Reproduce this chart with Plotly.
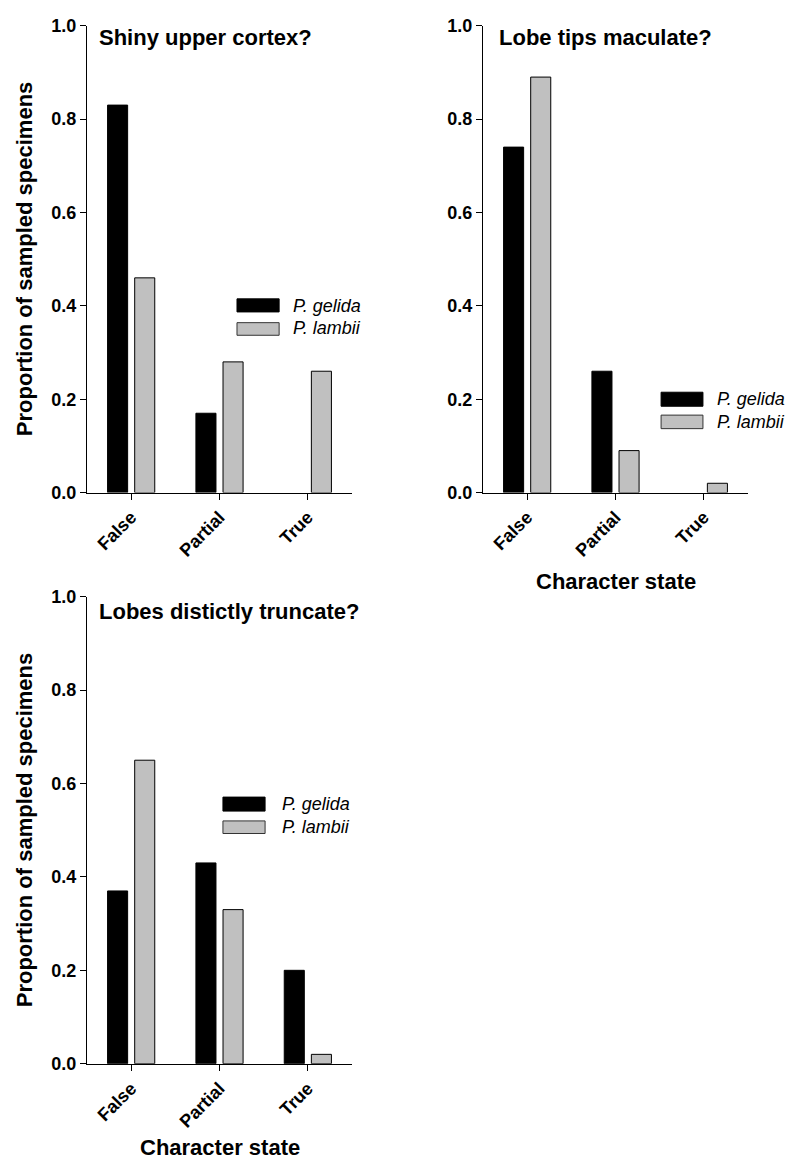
import plotly.graph_objects as go

# Character states on the x axis
categories = ["False", "Partial", "True"]

# Proportion of sampled specimens per character state
shiny_gelida = [0.83, 0.17, 0.0]
shiny_lambii = [0.46, 0.28, 0.26]

maculate_gelida = [0.74, 0.26, 0.0]
maculate_lambii = [0.89, 0.09, 0.02]

truncate_gelida = [0.37, 0.43, 0.20]
truncate_lambii = [0.65, 0.33, 0.02]

panel_titles = ["Shiny upper cortex?", "Lobe tips maculate?", "Lobes distictly truncate?"]
species = ["P. gelida", "P. lambii"]
y_ticks = [0.0, 0.2, 0.4, 0.6, 0.8, 1.0]

W, H = 787, 1171
FONT = "Liberation Sans, Arial, Helvetica, sans-serif"
BLACK = "#000000"
GREY = "#c0c0c0"


def px_x(v):
    return v / W


def px_y(v):
    return 1 - v / H


def outline_widths(values):
    # empty bars get no outline so nothing is drawn on the baseline
    return [1 if v > 0 else 0 for v in values]


# panel placement (x0, x1, y_top, y_bottom) in pixels
panels = [
    (87, 352, 16, 491),
    (483, 748, 16, 491),
    (87, 352, 597, 1072),
]

series = [
    (shiny_gelida, shiny_lambii),
    (maculate_gelida, maculate_lambii),
    (truncate_gelida, truncate_lambii),
]

fig = go.Figure()

for i, (g, l) in enumerate(series):
    sfx = "" if i == 0 else str(i + 1)
    fig.add_trace(go.Bar(
        x=categories, y=g, name=species[0], xaxis="x" + sfx, yaxis="y" + sfx,
        marker=dict(color=BLACK, line=dict(color=BLACK, width=outline_widths(g))),
        showlegend=False, hoverinfo="x+y+name"))
    fig.add_trace(go.Bar(
        x=categories, y=l, name=species[1], xaxis="x" + sfx, yaxis="y" + sfx,
        marker=dict(color=GREY, line=dict(color=BLACK, width=outline_widths(l))),
        showlegend=False, hoverinfo="x+y+name"))

layout = dict(
    width=W, height=H,
    margin=dict(l=0, r=0, t=0, b=0),
    paper_bgcolor="white", plot_bgcolor="white",
    barmode="group", bargap=0.386, bargroupgap=0.26,
    font=dict(family=FONT, color=BLACK),
    showlegend=False,
)

shapes = []
annotations = []

# legend key placement per panel: (swatch x0, x1, black y0, y1, grey y0, y1, text x, black text y, grey text y)
legend_keys = [
    (0.566, 0.725, 0.387, 0.415, 0.337, 0.364, 0.770, 0.400, 0.352),
    (0.672, 0.830, 0.185, 0.215, 0.137, 0.166, 0.875, 0.200, 0.152),
    (0.513, 0.672, 0.541, 0.571, 0.493, 0.520, 0.728, 0.556, 0.507),
]
title_pos = [(0.038, 0.975), (0.053, 0.975), (0.038, 0.968)]

for i, (x0, x1, yt, yb) in enumerate(panels):
    sfx = "" if i == 0 else str(i + 1)
    xa = "xaxis" + sfx
    ya = "yaxis" + sfx
    layout[xa] = dict(
        domain=[px_x(x0), px_x(x1)], anchor="y" + sfx,
        range=[-0.5, 2.5], type="category",
        showline=True, linecolor=BLACK, linewidth=1.3, mirror=False,
        ticks="outside", ticklen=6, tickwidth=1.2, tickcolor=BLACK,
        tickangle=-45, showgrid=False, zeroline=False,
        tickfont=dict(family=FONT, size=18, color=BLACK, weight="bold"),
    )
    layout[ya] = dict(
        domain=[px_y(yb), px_y(yt)], anchor="x" + sfx,
        range=[0, 1.0], tickvals=y_ticks, tickformat=".1f",
        showline=True, linecolor=BLACK, linewidth=1.3,
        ticks="outside", ticklen=6, tickwidth=1.2, tickcolor=BLACK,
        showgrid=False, zeroline=False,
        tickfont=dict(family=FONT, size=18, color=BLACK, weight="bold"),
    )

    xr = "x" + sfx + " domain"
    yr = "y" + sfx + " domain"

    # panel heading
    tx, ty = title_pos[i]
    annotations.append(dict(
        text="<b>" + panel_titles[i] + "</b>", xref=xr, yref=yr, x=tx, y=ty,
        xanchor="left", yanchor="middle", showarrow=False,
        font=dict(family=FONT, size=22, color=BLACK)))

    # legend keys
    sx0, sx1, by0, by1, gy0, gy1, txx, bty, gty = legend_keys[i]
    shapes.append(dict(type="rect", xref=xr, yref=yr, x0=sx0, x1=sx1, y0=by0, y1=by1,
                       fillcolor=BLACK, line=dict(color=BLACK, width=1)))
    shapes.append(dict(type="rect", xref=xr, yref=yr, x0=sx0, x1=sx1, y0=gy0, y1=gy1,
                       fillcolor=GREY, line=dict(color="#333333", width=1)))
    for name, yy in ((species[0], bty), (species[1], gty)):
        annotations.append(dict(
            text="<i>" + name + "</i>", xref=xr, yref=yr, x=txx, y=yy,
            xanchor="left", yanchor="middle", showarrow=False,
            font=dict(family=FONT, size=18, color=BLACK)))

# y-axis titles on the left-hand panels
for i in (0, 2):
    x0, x1, yt, yb = panels[i]
    annotations.append(dict(
        text="<b>Proportion of sampled specimens</b>", xref="paper", yref="paper",
        x=px_x(24), y=px_y((yt + yb) / 2), xanchor="center", yanchor="middle",
        textangle=-90, showarrow=False, font=dict(family=FONT, size=22, color=BLACK)))

# x-axis titles on the bottom row of each column
for i, yc in ((1, 581), (2, 1157)):
    x0, x1, yt, yb = panels[i]
    annotations.append(dict(
        text="<b>Character state</b>", xref="paper", yref="paper",
        x=px_x((x0 + x1) / 2), y=px_y(yc), xanchor="center", yanchor="middle",
        showarrow=False, font=dict(family=FONT, size=22, color=BLACK)))

layout["shapes"] = shapes
layout["annotations"] = annotations
fig.update_layout(**layout)

fig.write_html("out.html")
